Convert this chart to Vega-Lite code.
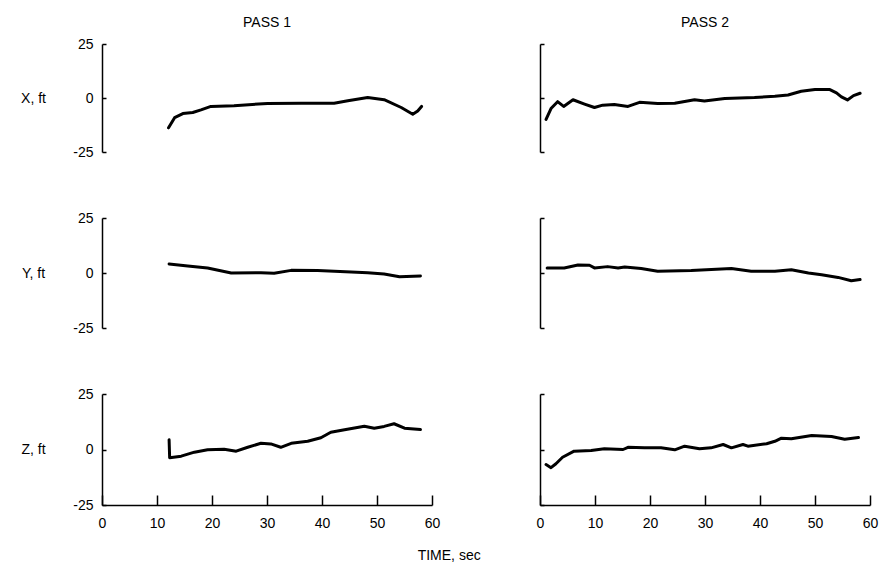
{
  "$schema": "https://vega.github.io/schema/vega-lite/v6.json",
  "padding": {"left": 20, "top": 16, "right": 5, "bottom": 5},
  "background": "white",
  "title": {"text": "TIME, sec", "orient": "bottom", "anchor": "middle", "offset": 19, "fontSize": 14, "fontWeight": "normal", "font": "Liberation Sans"},
  "datasets": {
    "p1x": [{"t":12.1,"v":-13.8},{"t":13.2,"v":-9.1},{"t":14.7,"v":-7.2},{"t":16.5,"v":-6.7},{"t":18,"v":-5.5},{"t":19.8,"v":-3.9},{"t":24,"v":-3.6},{"t":30.1,"v":-2.5},{"t":36.2,"v":-2.4},{"t":42.2,"v":-2.4},{"t":44.7,"v":-1.3},{"t":48.3,"v":0.2},{"t":51.3,"v":-0.8},{"t":54.4,"v":-4.4},{"t":56.5,"v":-7.5},{"t":57.4,"v":-6},{"t":58.1,"v":-3.9}],
    "p2x": [{"t":1.1,"v":-9.9},{"t":2.0,"v":-4.9},{"t":3.2,"v":-1.7},{"t":4.3,"v":-3.9},{"t":6.0,"v":-0.8},{"t":8.1,"v":-2.8},{"t":9.9,"v":-4.4},{"t":11.4,"v":-3.3},{"t":13.5,"v":-3.0},{"t":16,"v":-3.9},{"t":18.1,"v":-2.0},{"t":21.4,"v":-2.5},{"t":24.5,"v":-2.4},{"t":28.1,"v":-0.8},{"t":29.9,"v":-1.4},{"t":33.6,"v":-0.2},{"t":39,"v":0.2},{"t":42.7,"v":0.8},{"t":45.1,"v":1.4},{"t":47.5,"v":3.1},{"t":50,"v":3.9},{"t":52.7,"v":3.9},{"t":53.9,"v":2.4},{"t":54.8,"v":0.5},{"t":55.9,"v":-0.9},{"t":57,"v":1.1},{"t":58.2,"v":2.2}],
    "p1y": [{"t":12.2,"v":4.1},{"t":15.6,"v":3.2},{"t":19.2,"v":2.3},{"t":23.5,"v":0},{"t":28.9,"v":0.15},{"t":31.3,"v":-0.15},{"t":34.4,"v":1.2},{"t":39.2,"v":1.1},{"t":45.3,"v":0.45},{"t":48.3,"v":0.15},{"t":51.3,"v":-0.45},{"t":54.1,"v":-1.7},{"t":57.9,"v":-1.4}],
    "p2y": [{"t":1.3,"v":2.3},{"t":4.4,"v":2.3},{"t":6.9,"v":3.6},{"t":9.0,"v":3.5},{"t":9.9,"v":2.3},{"t":12.3,"v":2.9},{"t":14.2,"v":2.3},{"t":15.4,"v":2.7},{"t":18.4,"v":2.0},{"t":21.4,"v":0.8},{"t":27.5,"v":1.1},{"t":34.8,"v":2.0},{"t":38.4,"v":0.8},{"t":42.7,"v":0.8},{"t":45.7,"v":1.5},{"t":48.8,"v":0},{"t":51.2,"v":-0.8},{"t":54.2,"v":-2.0},{"t":56.6,"v":-3.5},{"t":58.2,"v":-3.0}],
    "p1z": [{"t":12.2,"v":4.4},{"t":12.3,"v":-3.7},{"t":14.4,"v":-3.0},{"t":16.8,"v":-1.2},{"t":19.2,"v":-0.1},{"t":22.2,"v":0.15},{"t":24.4,"v":-0.75},{"t":26.5,"v":1.0},{"t":28.9,"v":2.8},{"t":30.7,"v":2.5},{"t":32.5,"v":1.0},{"t":34.4,"v":2.8},{"t":37.4,"v":3.7},{"t":39.8,"v":5.3},{"t":41.6,"v":7.8},{"t":44.1,"v":8.9},{"t":47.7,"v":10.5},{"t":49.5,"v":9.6},{"t":51.3,"v":10.4},{"t":53.1,"v":11.6},{"t":55,"v":9.6},{"t":57.9,"v":9.0}],
    "p2z": [{"t":1.1,"v":-6.8},{"t":2.0,"v":-8.2},{"t":2.9,"v":-6.4},{"t":4.1,"v":-3.5},{"t":6.2,"v":-0.75},{"t":9.3,"v":-0.45},{"t":11.7,"v":0.3},{"t":15.1,"v":0},{"t":16,"v":1.0},{"t":19,"v":0.75},{"t":22,"v":0.75},{"t":24.5,"v":-0.15},{"t":26.3,"v":1.5},{"t":29,"v":0.3},{"t":31.1,"v":0.75},{"t":33.3,"v":2.25},{"t":34.8,"v":0.75},{"t":36.9,"v":2.25},{"t":37.8,"v":1.5},{"t":41.2,"v":2.6},{"t":42.7,"v":3.7},{"t":43.9,"v":5.1},{"t":45.7,"v":4.8},{"t":49.4,"v":6.3},{"t":53,"v":5.85},{"t":55.4,"v":4.6},{"t":57.9,"v":5.4}]
  },
  "columns": 2,
  "spacing": {"row": 66, "column": 108},
  "bounds": "flush",
  "concat": [
    {
      "width": 330, "height": 108,
      "title": {"text": "PASS 1", "offset": 7},
      "data": {"name": "p1x"},
      "mark": {"type": "line", "color": "black", "strokeWidth": 3, "strokeCap": "round", "strokeJoin": "round"},
      "encoding": {
        "x": {"field": "t", "type": "quantitative", "scale": {"domain": [0, 60], "nice": false}, "axis": null},
        "y": {"field": "v", "type": "quantitative", "scale": {"domain": [-25, 25], "nice": false}, "axis": {"title": "X, ft", "values": [-25, 0, 25], "titleY": 54}}
      }
    },
    {
      "width": 330, "height": 108,
      "title": {"text": "PASS 2", "offset": 13},
      "data": {"name": "p2x"},
      "mark": {"type": "line", "color": "black", "strokeWidth": 3, "strokeCap": "round", "strokeJoin": "round"},
      "encoding": {
        "x": {"field": "t", "type": "quantitative", "scale": {"domain": [0, 60], "nice": false}, "axis": null},
        "y": {"field": "v", "type": "quantitative", "scale": {"domain": [-25, 25], "nice": false}, "axis": {"title": null, "labels": false, "values": [-25, 0, 25]}}
      }
    },
    {
      "width": 330, "height": 110,
      "data": {"name": "p1y"},
      "mark": {"type": "line", "color": "black", "strokeWidth": 3, "strokeCap": "round", "strokeJoin": "round"},
      "encoding": {
        "x": {"field": "t", "type": "quantitative", "scale": {"domain": [0, 60], "nice": false}, "axis": null},
        "y": {"field": "v", "type": "quantitative", "scale": {"domain": [-25, 25], "nice": false}, "axis": {"title": "Y, ft", "values": [-25, 0, 25], "titleY": 55}}
      }
    },
    {
      "width": 330, "height": 110,
      "data": {"name": "p2y"},
      "mark": {"type": "line", "color": "black", "strokeWidth": 3, "strokeCap": "round", "strokeJoin": "round"},
      "encoding": {
        "x": {"field": "t", "type": "quantitative", "scale": {"domain": [0, 60], "nice": false}, "axis": null},
        "y": {"field": "v", "type": "quantitative", "scale": {"domain": [-25, 25], "nice": false}, "axis": {"title": null, "labels": false, "values": [-25, 0, 25]}}
      }
    },
    {
      "width": 330, "height": 111,
      "data": {"name": "p1z"},
      "mark": {"type": "line", "color": "black", "strokeWidth": 3, "strokeCap": "round", "strokeJoin": "round"},
      "encoding": {
        "x": {"field": "t", "type": "quantitative", "scale": {"domain": [0, 60], "nice": false}, "axis": {"title": null, "values": [0, 10, 20, 30, 40, 50, 60]}},
        "y": {"field": "v", "type": "quantitative", "scale": {"domain": [-25, 25], "nice": false}, "axis": {"title": "Z, ft", "values": [-25, 0, 25], "titleY": 55.5}}
      }
    },
    {
      "width": 330, "height": 111,
      "data": {"name": "p2z"},
      "mark": {"type": "line", "color": "black", "strokeWidth": 3, "strokeCap": "round", "strokeJoin": "round"},
      "encoding": {
        "x": {"field": "t", "type": "quantitative", "scale": {"domain": [0, 60], "nice": false}, "axis": {"title": null, "values": [0, 10, 20, 30, 40, 50, 60]}},
        "y": {"field": "v", "type": "quantitative", "scale": {"domain": [-25, 25], "nice": false}, "axis": {"title": null, "labels": false, "values": [-25, 0, 25]}}
      }
    }
  ],
  "config": {
    "font": "Liberation Sans",
    "view": {"stroke": null},
    "title": {"fontSize": 14, "fontWeight": "normal", "color": "black"},
    "axis": {"domainColor": "black", "tickColor": "black", "domainWidth": 1.5, "tickWidth": 1.5, "grid": false, "labelFontSize": 14, "labelColor": "black", "titleColor": "black", "titleFontSize": 14, "titleFontWeight": "normal", "labelFlush": false, "labelOverlap": false, "labelExpr": "'' + datum.value"},
    "axisY": {"tickSize": -4, "labelPadding": 13, "titleAngle": 0, "titleAlign": "center", "titleBaseline": "middle", "titleX": -69},
    "axisX": {"tickSize": -10, "labelPadding": 21}
  }
}
